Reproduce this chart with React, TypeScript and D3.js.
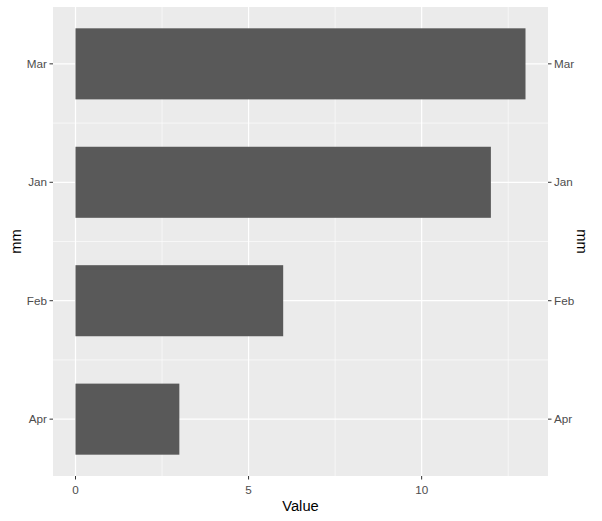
import * as d3 from 'd3';

// bar data, bottom to top (ggplot level order)
const months = ["Apr", "Feb", "Jan", "Mar"];
const values = [3, 6, 12, 13];
const xTicks = [0, 5, 10];

const W = 602;
const H = 521;
const panel = { left: 53, right: 548, top: 7, bottom: 476 };

const App = () => {
  const x = d3.scaleLinear()
    .domain([-0.65, 13.65])
    .range([panel.left, panel.right]);

  // discrete axis with ~0.48 band of padding each side
  const y = d3.scaleLinear()
    .domain([-0.48, months.length - 1 + 0.48])
    .range([panel.bottom, panel.top]);

  const barHalf = (y(0) - y(0.6)) / 2;
  const minorX = [2.5, 7.5, 12.5];
  const minorY = [0.5, 1.5, 2.5];
  const font = "'Liberation Sans', Arial, sans-serif";

  return (
    <svg width={W} height={H} style={{ position: "absolute", left: 0, top: 0, fontFamily: font }}>
      <rect width={W} height={H} fill="#fff" />
      <rect x={panel.left} y={panel.top} width={panel.right - panel.left} height={panel.bottom - panel.top} fill="#EBEBEB" />

      {/* minor grid */}
      {minorX.map(v => (
        <line key={"mx" + v} x1={x(v)} x2={x(v)} y1={panel.top} y2={panel.bottom} stroke="#fff" strokeWidth={0.6} />
      ))}
      {minorY.map(v => (
        <line key={"my" + v} x1={panel.left} x2={panel.right} y1={y(v)} y2={y(v)} stroke="#fff" strokeWidth={0.6} />
      ))}
      {/* major grid */}
      {xTicks.map(v => (
        <line key={"gx" + v} x1={x(v)} x2={x(v)} y1={panel.top} y2={panel.bottom} stroke="#fff" strokeWidth={1.2} />
      ))}
      {months.map((m, i) => (
        <line key={"gy" + m} x1={panel.left} x2={panel.right} y1={y(i)} y2={y(i)} stroke="#fff" strokeWidth={1.2} />
      ))}

      {/* bars */}
      {months.map((m, i) => (
        <rect key={"b" + m} x={x(0)} y={y(i) - barHalf} width={x(values[i]) - x(0)} height={barHalf * 2} fill="#595959" />
      ))}

      {/* left axis */}
      {months.map((m, i) => (
        <g key={"la" + m}>
          <line x1={panel.left - 3.5} x2={panel.left} y1={y(i)} y2={y(i)} stroke="#333" strokeWidth={1} />
          <text x={panel.left - 6} y={y(i)} dy="0.35em" textAnchor="end" fontSize={11.7} fill="#4D4D4D">{m}</text>
        </g>
      ))}
      {/* right axis */}
      {months.map((m, i) => (
        <g key={"ra" + m}>
          <line x1={panel.right} x2={panel.right + 3.5} y1={y(i)} y2={y(i)} stroke="#333" strokeWidth={1} />
          <text x={panel.right + 6} y={y(i)} dy="0.35em" textAnchor="start" fontSize={11.7} fill="#4D4D4D">{m}</text>
        </g>
      ))}
      {/* bottom axis */}
      {xTicks.map(v => (
        <g key={"bx" + v}>
          <line x1={x(v)} x2={x(v)} y1={panel.bottom} y2={panel.bottom + 3.5} stroke="#333" strokeWidth={1} />
          <text x={x(v)} y={494} textAnchor="middle" fontSize={11.7} fill="#4D4D4D">{v}</text>
        </g>
      ))}

      {/* titles */}
      <text x={(panel.left + panel.right) / 2} y={511} textAnchor="middle" fontSize={14.7} fill="#000">Value</text>
      <text transform={`translate(21, ${(panel.top + panel.bottom) / 2}) rotate(-90)`} textAnchor="middle" fontSize={14.7} fill="#000">mm</text>
      <text transform={`translate(577, ${(panel.top + panel.bottom) / 2}) rotate(90)`} textAnchor="middle" fontSize={14.7} fill="#000">mm</text>
    </svg>
  );
};

export default App;
